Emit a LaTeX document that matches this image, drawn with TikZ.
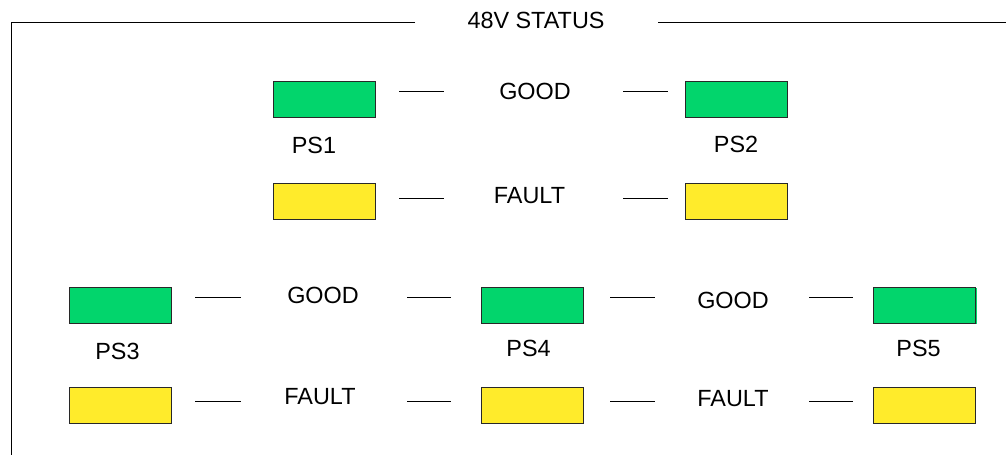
\documentclass[tikz,border=0pt]{standalone}
\usepackage{fontspec}
\setmainfont{Liberation Sans}
\definecolor{ledgreen}{RGB}{2,213,108}
\definecolor{ledyellow}{RGB}{255,235,43}
\definecolor{edge}{RGB}{40,40,40}
\tikzset{
  lbl/.style={inner sep=0pt, text height=16.8pt, text depth=0pt, font=\fontsize{23.4}{27}\selectfont},
  led/.style={draw=edge, line width=1pt, minimum width=102pt, minimum height=36pt, inner sep=0pt},
  goodled/.style={led, fill=ledgreen},
  faultled/.style={led, fill=ledyellow},
  tick/.style={draw=black, line width=1pt},
  frame/.style={draw=black, line width=1pt}
}
\begin{document}
\begin{tikzpicture}[x=1pt,y=-1pt]
\useasboundingbox (0,0) rectangle (1006,455);
% frame
\node[lbl] (title) at (536,20.5) {48V STATUS};
\coordinate (fl1) at (415,22);
\coordinate (fc) at (11,22);
\coordinate (fb) at (11,455);
\coordinate (fr1) at (658,22);
\coordinate (fr2) at (1006,22);
\draw[frame] (fl1) -- (fc) -- (fb);
\draw[frame] (fr1) -- (fr2);
% top group
\node[goodled] (g1) at (324,99) {};
\node[faultled] (f1) at (324,201.5) {};
\node[goodled] (g2) at (736,99) {};
\node[faultled] (f2) at (736,201.5) {};
\node[lbl] (ps1) at (314,145) {PS1};
\node[lbl] (ps2) at (736,144) {PS2};
\node[lbl] (good12) at (535,91.5) {GOOD};
\node[lbl] (fault12) at (529.5,195) {FAULT};
\coordinate (a1) at (399,91); \coordinate (a2) at (444,91);
\coordinate (a3) at (623,91); \coordinate (a4) at (668,91);
\coordinate (b1) at (399,198); \coordinate (b2) at (444,198);
\coordinate (b3) at (623,198); \coordinate (b4) at (668,198);
\draw[tick] (a1) -- (a2); \draw[tick] (a3) -- (a4);
\draw[tick] (b1) -- (b2); \draw[tick] (b3) -- (b4);
% bottom group
\node[goodled] (g3) at (120,305.5) {};
\node[faultled] (f3) at (120,405) {};
\node[goodled] (g4) at (532,305.5) {};
\node[faultled] (f4) at (532,405) {};
\fill[ledgreen] (874,288) rectangle (977,323.5);
\node[goodled] (g5) at (924.5,305.5) {};
\node[faultled] (f5) at (924.5,405) {};
\node[lbl] (ps3) at (117.5,351) {PS3};
\node[lbl] (ps4) at (528.5,348.5) {PS4};
\node[lbl] (ps5) at (918.5,348) {PS5};
\node[lbl] (good34) at (323,295.5) {GOOD};
\node[lbl] (fault34) at (320,396.5) {FAULT};
\node[lbl] (good45) at (733,300) {GOOD};
\node[lbl] (fault45) at (733,398) {FAULT};
\coordinate (c1) at (195,297); \coordinate (c2) at (241,297);
\coordinate (c3) at (407,297); \coordinate (c4) at (451,297);
\coordinate (c5) at (610,297); \coordinate (c6) at (655,297);
\coordinate (c7) at (809,297); \coordinate (c8) at (853,297);
\coordinate (d1) at (195,401); \coordinate (d2) at (241,401);
\coordinate (d3) at (407,401); \coordinate (d4) at (451,401);
\coordinate (d5) at (610,401); \coordinate (d6) at (655,401);
\coordinate (d7) at (809,401); \coordinate (d8) at (853,401);
\draw[tick] (c1) -- (c2); \draw[tick] (c3) -- (c4);
\draw[tick] (c5) -- (c6); \draw[tick] (c7) -- (c8);
\draw[tick] (d1) -- (d2); \draw[tick] (d3) -- (d4);
\draw[tick] (d5) -- (d6); \draw[tick] (d7) -- (d8);
\end{tikzpicture}
\end{document}
